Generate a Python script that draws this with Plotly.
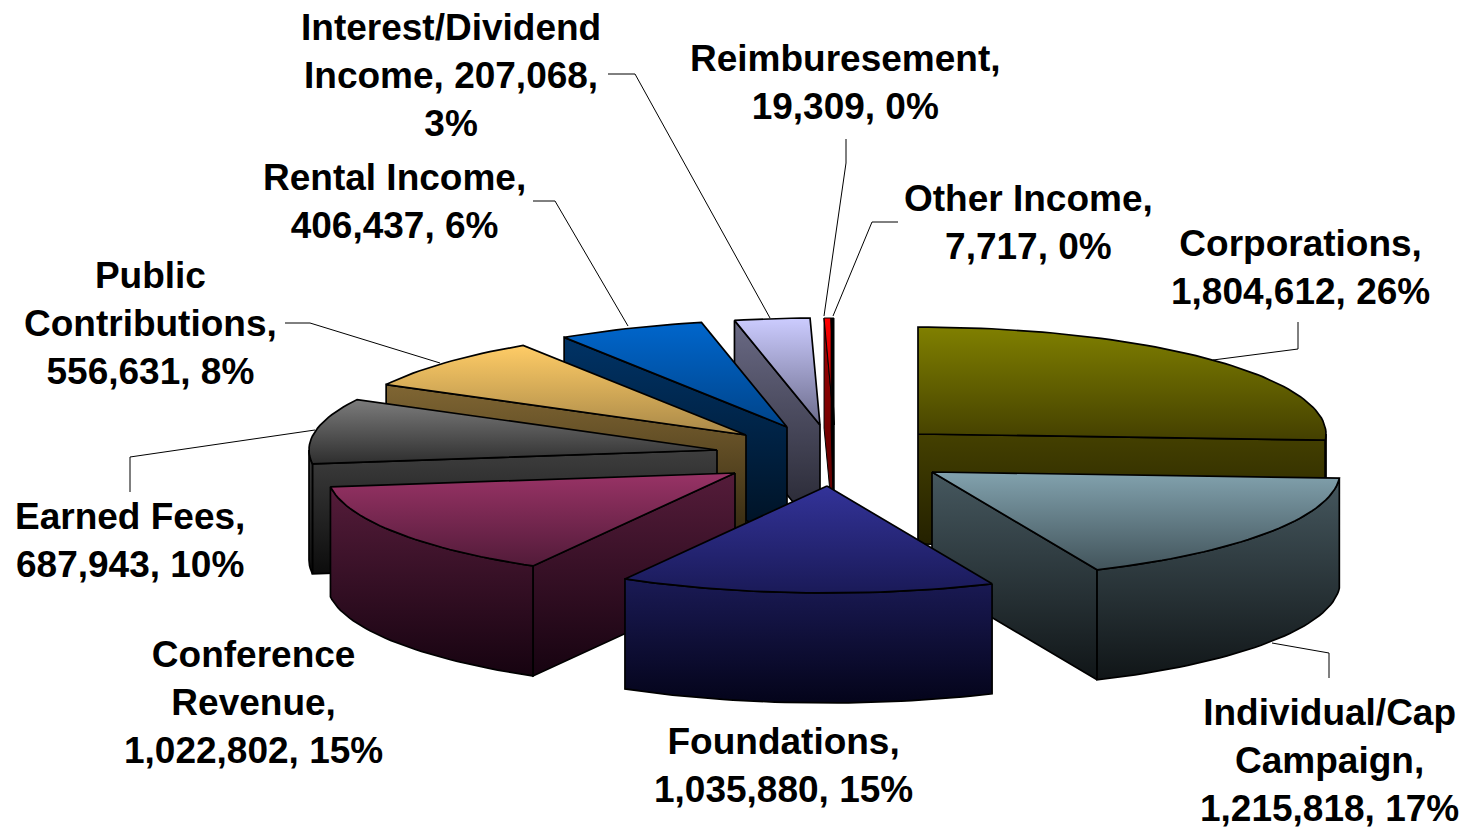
import math
import plotly.graph_objects as go

# ---- data (clockwise from 12 o'clock) ----
categories = ["Corporations", "Individual/Cap Campaign", "Foundations", "Conference Revenue",
              "Earned Fees", "Public Contributions", "Rental Income",
              "Interest/Dividend Income", "Reimburesement", "Other Income"]
values = [1804612, 1215818, 1035880, 1022802, 687943, 556631, 406437, 207068, 19309, 7717]
label_breaks = [["Corporations,", "{v}, {p}%"],
                ["Individual/Cap", "Campaign,", "{v}, {p}%"],
                ["Foundations,", "{v}, {p}%"],
                ["Conference", "Revenue,", "{v}, {p}%"],
                ["Earned Fees,", "{v}, {p}%"],
                ["Public", "Contributions,", "{v}, {p}%"],
                ["Rental Income,", "{v}, {p}%"],
                ["Interest/Dividend", "Income, {v},", "{p}%"],
                ["Reimburesement,", "{v}, {p}%"],
                ["Other Income,", "{v}, {p}%"]]

# ---- styling / layout ----
RX, RY, DEPTH = 408, 107, 110
apex_x = [918, 932, 827, 735, 717, 746, 787, 820, 834, 834]
apex_y = [434, 472, 486, 473, 450, 435, 427, 425, 425, 425]
top_colors = [("#808000", "#444000"), ("#82A2AE", "#42545B"), ("#333399", "#1A1A58"),
              ("#993366", "#521B39"), ("#7C7C7C", "#2E2E2E"), ("#FFCC66", "#A88848"),
              ("#0066CC", "#00448A"), ("#CCCCFF", "#6C6C8C"), ("#FF0000", "#A00000"),
              ("#000000", "#000000")]
wall_colors = [("#444000", "#221F00"), ("#46585F", "#101517"), ("#1A1A55", "#04041A"),
               ("#551C3A", "#160310"), ("#3E3E3E", "#0C0C0C"), ("#806633", "#30260F"),
               ("#003366", "#001122"), ("#6A6A85", "#22222C"), ("#A00000", "#500000"),
               ("#000000", "#000000")]
edge_widths = [1.7, 1.7, 1.7, 1.7, 1.7, 1.7, 1.7, 1.7, 1, 1]
draw_order = [8, 9, 7, 6, 5, 4, 0, 3, 1, 2]
label_pos = [(1300, 267), (1329, 760), (783, 765), (253, 702), (130, 540), (150, 323),
             (394, 201), (451, 75), (845, 82), (1028, 222)]
leaders = [[(1298, 322), (1298, 349), (1213, 360)],
           [(1329, 678), (1329, 653), (1272, 643)],
           [(130, 492), (130, 457), (315, 430)],
           [(285, 323), (310, 323), (440, 363)],
           [(533, 201), (555, 201), (628, 326)],
           [(608, 74), (635, 74), (770, 318)],
           [(846, 139), (846, 163), (824, 316)],
           [(898, 222), (872, 222), (833, 316)]]

total = sum(values)
starts, ends, acc = [], [], 0.0
for v in values:
    starts.append(acc / total * 360)
    acc += v
    ends.append(acc / total * 360)


def rim(i, a):
    t = math.radians(a)
    return apex_x[i] + RX * math.sin(t), apex_y[i] - RY * math.cos(t)


def arc(i, a0, a1):
    n = max(2, int(abs(a1 - a0) / 1.5) + 2)
    return [rim(i, a0 + (a1 - a0) * k / (n - 1)) for k in range(n)]


def face(pts, colors, width):
    xs = [p[0] for p in pts] + [pts[0][0]]
    ys = [p[1] for p in pts] + [pts[0][1]]
    return go.Scatter(x=xs, y=ys, mode="lines", fill="toself",
                      line=dict(color="black", width=width),
                      fillgradient=dict(type="vertical",
                                        colorscale=[[0, colors[0]], [1, colors[1]]],
                                        start=min(ys), stop=max(ys)),
                      hoverinfo="skip", showlegend=False)


fig = go.Figure()
for pts in leaders:
    fig.add_trace(go.Scatter(x=[p[0] for p in pts], y=[p[1] for p in pts], mode="lines",
                             line=dict(color="black", width=1), hoverinfo="skip", showlegend=False))

for i in draw_order:
    s, e = starts[i], ends[i]
    c = (apex_x[i], apex_y[i])
    c2 = (c[0], c[1] + DEPTH)
    wall = wall_colors[i]
    w = edge_widths[i]
    if e < 180:
        r = rim(i, e)
        fig.add_trace(face([c, r, (r[0], r[1] + DEPTH), c2], wall, w))
    if s > 180:
        r = rim(i, s)
        fig.add_trace(face([c, r, (r[0], r[1] + DEPTH), c2], wall, w))
    w0, w1 = max(s, 90), min(e, 270)
    if w1 > w0:
        top = arc(i, w0, w1)
        bottom = [(x, y + DEPTH) for x, y in reversed(top)]
        fig.add_trace(face(top + bottom, wall, w))
    fig.add_trace(face([c] + arc(i, s, e), top_colors[i], w))

for i, (x, y) in enumerate(label_pos):
    v = f"{values[i]:,}"
    p = round(values[i] / total * 100)
    text = "<br>".join(l.format(v=v, p=p) for l in label_breaks[i])
    fig.add_annotation(x=x, y=y, text=text, showarrow=False, align="center",
                       xanchor="center", yanchor="middle",
                       font=dict(family="Liberation Sans", size=37, color="black", weight="bold"))

fig.update_layout(width=1468, height=828, margin=dict(l=0, r=0, t=0, b=0),
                  paper_bgcolor="white", plot_bgcolor="white", showlegend=False,
                  xaxis=dict(range=[0, 1468], visible=False, fixedrange=True),
                  yaxis=dict(range=[828, 0], visible=False, fixedrange=True))

fig.write_html("out.html", config={"displayModeBar": False},
               post_script="document.body.style.margin='0';")
